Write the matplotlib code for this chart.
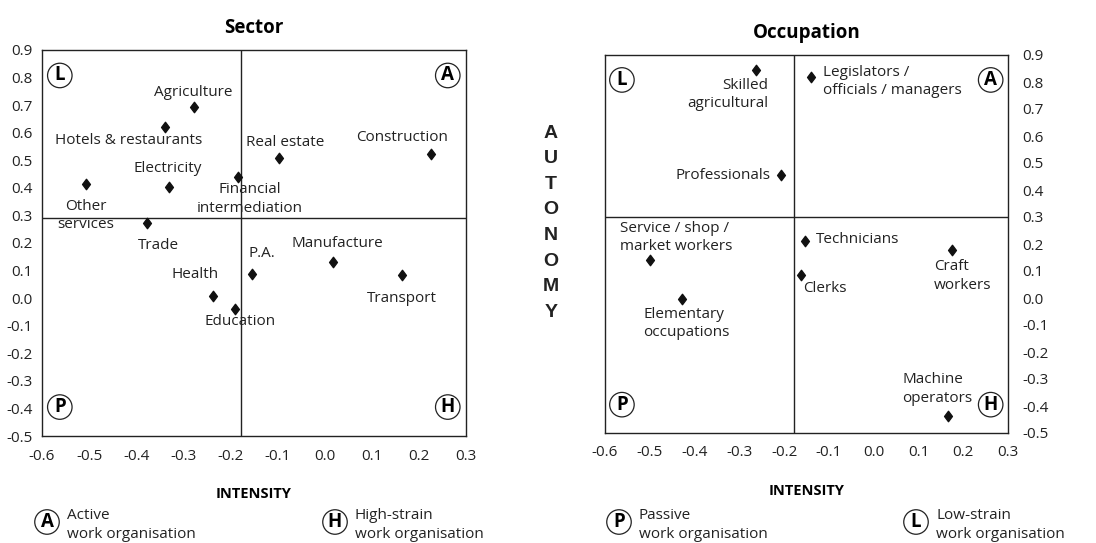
import matplotlib
matplotlib.use("Agg")
import matplotlib.pyplot as plt
from matplotlib.path import Path

plt.rcParams.update(
    {
        "font.family": ["Open Sans", "DejaVu Sans"],
        "font.size": 11,
        "axes.unicode_minus": False,
        "axes.linewidth": 1.0,
        "axes.edgecolor": "#222222",
    }
)

# ---- data -------------------------------------------------------------
sector_names = [
    "Agriculture", "Hotels & restaurants", "Electricity", "Other\nservices",
    "Trade", "Financial\nintermediation", "Real estate", "Construction",
    "P.A.", "Manufacture", "Health", "Education", "Transport",
]
sector_intensity = [-0.278, -0.338, -0.330, -0.507, -0.378, -0.184, -0.096,
                    0.225, -0.154, 0.018, -0.237, -0.191, 0.164]
sector_autonomy = [0.694, 0.621, 0.403, 0.415, 0.273, 0.439, 0.510,
                   0.521, 0.088, 0.130, 0.009, -0.041, 0.084]

occ_names = [
    "Skilled\nagricultural", "Legislators /\nofficials / managers", "Professionals",
    "Service / shop /\nmarket workers", "Technicians", "Craft\nworkers", "Clerks",
    "Elementary\noccupations", "Machine\noperators",
]
occ_intensity = [-0.263, -0.140, -0.206, -0.500, -0.154, 0.175, -0.163, -0.429, 0.165]
occ_autonomy = [0.846, 0.817, 0.454, 0.142, 0.210, 0.177, 0.086, -0.005, -0.437]

mean_intensity = -0.178
mean_autonomy_sector = 0.29
mean_autonomy_occ = 0.30

x_ticks = [-0.6, -0.5, -0.4, -0.3, -0.2, -0.1, 0.0, 0.1, 0.2, 0.3]
y_ticks = [-0.5, -0.4, -0.3, -0.2, -0.1, 0.0, 0.1, 0.2, 0.3, 0.4, 0.5, 0.6, 0.7, 0.8, 0.9]

# label placement: (dx px, dy px, ha)
sector_label_pos = [
    (0, 14, "center"), (-37, -14, "center"), (-2, 19, "center"), (0, -32, "center"),
    (12, -23, "center"), (12, -22, "center"), (6, 15, "center"), (-29, 17, "center"),
    (10, 20, "center"), (4, 19, "center"), (-18, 21, "center"), (5, -12, "center"),
    (0, -24, "center"),
]
occ_label_pos = [
    (12, -25, "right"), (12, -4, "left"), (-11, 0, "right"), (-30, 22, "left"),
    (11, 2, "left"), (-18, -26, "left"), (2, -14, "left"), (-38, -24, "left"),
    (-45, 27, "left"),
]

W, H = 1096, 543
fig = plt.figure(figsize=(W / 100, H / 100), dpi=100)

DIAMOND = Path([(0, 1), (0.75, 0), (0, -1), (-0.75, 0), (0, 1)],
               [Path.MOVETO, Path.LINETO, Path.LINETO, Path.LINETO, Path.CLOSEPOLY])


def box(x0, y0, x1, y1):
    return [x0 / W, 1 - y1 / H, (x1 - x0) / W, (y1 - y0) / H]


def circled(ax_or_fig, x, y, letter, transform):
    ax_or_fig.text(x, y, letter, transform=transform, ha="center", va="center",
                   fontsize=13.5, fontweight="bold",
                   bbox=dict(boxstyle="circle,pad=0.12", fc="white", ec="#222222", lw=0.9))


def panel(rect, title, xs, ys, names, pos, hline, right_ticks):
    ax = fig.add_axes(rect)
    ax.set_xlim(-0.6, 0.3)
    ax.set_ylim(-0.5, 0.9)
    ax.set_xticks(x_ticks)
    ax.set_yticks(y_ticks)
    ax.set_xticklabels([f"{v:.1f}" for v in x_ticks])
    ax.set_yticklabels([f"{v:.1f}" for v in y_ticks])
    ax.tick_params(length=0, labelsize=11, colors="#222222")
    ax.tick_params(axis="x", pad=9)
    if right_ticks:
        ax.yaxis.tick_right()
        ax.tick_params(axis="y", pad=10)
    else:
        ax.tick_params(axis="y", pad=7)
    ax.axvline(mean_intensity, color="#222222", lw=1.0)
    ax.axhline(hline, color="#222222", lw=1.0)
    ax.plot(xs, ys, linestyle="none", marker=DIAMOND, markersize=7.5,
            color="#111111")
    for name, x, y, (dx, dy, ha) in zip(names, xs, ys, pos):
        ax.annotate(name, (x, y), xytext=(dx, dy), textcoords="offset pixels",
                    ha=ha, va="center", multialignment=ha, fontsize=11,
                    linespacing=1.32, color="#222222")
    ax.set_title(title, fontsize=13.5, fontweight="bold", pad=12)
    ax.set_xlabel("INTENSITY", fontsize=10.5, fontweight="bold", labelpad=17)
    return ax


ax1 = panel(box(42, 50, 466, 436), "Sector", sector_intensity, sector_autonomy,
            sector_names, sector_label_pos, mean_autonomy_sector, False)
ax2 = panel(box(605, 55, 1008, 433), "Occupation", occ_intensity, occ_autonomy,
            occ_names, occ_label_pos, mean_autonomy_occ, True)

for ax in (ax1, ax2):
    circled(ax, 0.042, 0.934, "L", ax.transAxes)
    circled(ax, 0.957, 0.934, "A", ax.transAxes)
    circled(ax, 0.042, 0.075, "P", ax.transAxes)
    circled(ax, 0.957, 0.075, "H", ax.transAxes)

# vertical AUTONOMY label
for i, ch in enumerate("AUTONOMY"):
    fig.text(551 / W, 1 - (133 + i * 25.6) / H, ch, ha="center", va="center",
             fontsize=14, fontweight="bold", family=["Liberation Sans", "DejaVu Sans"],
             color="#222222")

# legend along the bottom
legend_items = [
    (47, "A", "Active\nwork organisation"),
    (335, "H", "High-strain\nwork organisation"),
    (619, "P", "Passive\nwork organisation"),
    (916, "L", "Low-strain\nwork organisation"),
]
for x, letter, label in legend_items:
    circled(fig, x / W, 1 - 522 / H, letter, fig.transFigure)
    fig.text((x + 20) / W, 1 - 508 / H, label, ha="left", va="top", fontsize=11,
             linespacing=1.32, color="#222222")

fig.savefig("out.png", dpi=100)
